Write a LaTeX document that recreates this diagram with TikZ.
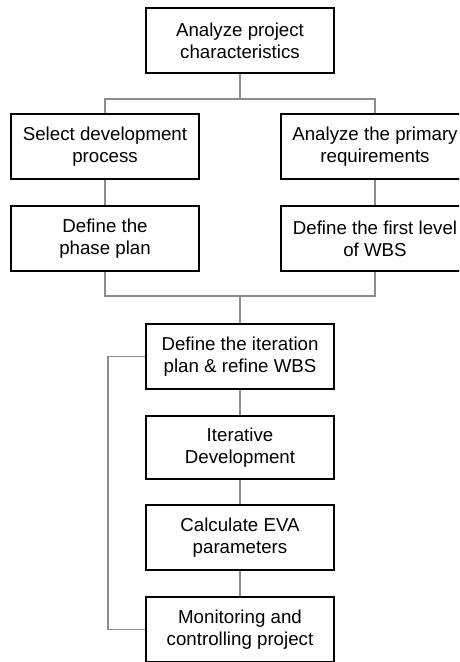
\documentclass[tikz,border=0pt]{standalone}
\usepackage{fontspec}
\setmainfont{Liberation Sans}
\usetikzlibrary{calc,positioning}

\begin{document}
\begin{tikzpicture}[x=1pt,y=-1pt]
  \tikzset{ b/.style={draw=black,line width=1.3pt,fill=white,align=center,
                      minimum width=188pt,minimum height=65pt,inner sep=0pt,
                      font=\fontsize{18.7}{22.3}\selectfont},
            l/.style={-,line width=1.3pt,color=black!45},
  }
  \clip (0,0) rectangle (459,662);

  \node[b] (A)  at (240, 40.5) {Analyze project\\characteristics};
  \node[b] (S1) at (105,146.5) {Select development\\process};
  \node[b] (R1) at (375,146.5) {Analyze the primary\\requirements};
  \node[b] (S2) at (105,238.5) {Define the\\phase plan};
  \node[b] (R2) at (375,238.5) {Define the first level\\of WBS};
  \node[b] (I)  at (240,356.5) {Define the iteration\\plan \& refine WBS};
  \node[b,minimum height=63pt] (D) at (240,447.5) {Iterative\\Development};
  \node[b] (E)  at (240,537.5) {Calculate EVA\\parameters};
  \node[b] (M)  at (240,629.5) {Monitoring and\\controlling project};

  % split and merge
  \coordinate (top)  at (240, 99);
  \coordinate (bot)  at (240,296);
  \draw[l] (A) -- (top);
  \draw[l] (S1.north) |- (top) -| (R1.north);
  \draw[l] (S1) -- (S2);
  \draw[l] (R1) -- (R2);
  \draw[l] (S2.south) |- (bot) -| (R2.south);
  \draw[l] (bot) -- (I);

  % iteration chain
  \draw[l] (I) -- (D);
  \draw[l] (D) -- (E);
  \draw[l] (E) -- (M);

  % feedback loop
  \coordinate (fb) at (108,0);
  \draw[l] (M.west) -| (fb |- M.west) |- (I.west);
\end{tikzpicture}
\end{document}
